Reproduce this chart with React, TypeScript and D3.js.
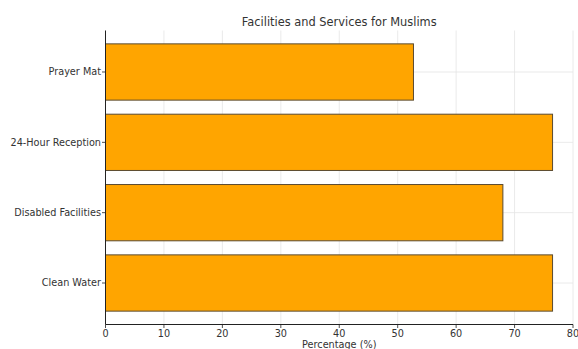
import React from "react";
import * as d3 from "d3";

const categories = ["Clean Water", "Disabled Facilities", "24-Hour Reception", "Prayer Mat"];
const values = [76.5, 68.0, 76.5, 52.7];
const xTicks = [0, 10, 20, 30, 40, 50, 60, 70, 80];
const title = "Facilities and Services for Muslims";
const xLabel = "Percentage (%)";

const W = 578, H = 349;
const left = 105.5, right = 573, top = 30.5, bottom = 324.5;

export default function App() {
  const x = d3.scaleLinear().domain([0, 80]).range([left, right]);
  const y = d3.scaleLinear().domain([-0.59, 3.59]).range([bottom, top]);
  const font = "'DejaVu Sans', sans-serif";
  return (
    <svg width={W} height={H} style={{ position: "absolute", left: 0, top: 0, background: "#fff" }}>
      {xTicks.map((t) => (
        <line key={"gx" + t} x1={x(t)} x2={x(t)} y1={top} y2={bottom} stroke="#e4e4e4" strokeWidth={0.8} />
      ))}
      {categories.map((c, i) => (
        <line key={"gy" + c} x1={left} x2={right} y1={y(i)} y2={y(i)} stroke="#e4e4e4" strokeWidth={0.8} />
      ))}
      {categories.map((c, i) => (
        <rect
          key={c}
          x={x(0)}
          y={y(i + 0.4)}
          width={x(values[i]) - x(0)}
          height={y(i - 0.4) - y(i + 0.4)}
          fill="#FFA500"
          stroke="#5a4a30"
          strokeWidth={1}
        />
      ))}
      <line x1={left} x2={left} y1={top} y2={bottom} stroke="#222" strokeWidth={1} />
      <line x1={left} x2={right} y1={bottom} y2={bottom} stroke="#222" strokeWidth={1} />
      {xTicks.map((t) => (
        <g key={"xt" + t}>
          <line x1={x(t)} x2={x(t)} y1={bottom} y2={bottom + 3.5} stroke="#222" strokeWidth={0.8} />
          <text x={x(t)} y={bottom + 12.5} textAnchor="middle" fontFamily={font} fontSize={9.7} fill="#333">
            {t}
          </text>
        </g>
      ))}
      {categories.map((c, i) => (
        <g key={"yt" + c}>
          <line x1={left - 3.5} x2={left} y1={y(i)} y2={y(i)} stroke="#222" strokeWidth={0.8} />
          <text x={left - 4.5} y={y(i)} dy="0.35em" textAnchor="end" fontFamily={font} fontSize={9.7} fill="#333">
            {c}
          </text>
        </g>
      ))}
      <text x={(left + right) / 2} y={H - 1} textAnchor="middle" fontFamily={font} fontSize={9.7} fill="#333">
        {xLabel}
      </text>
      <text x={(left + right) / 2} y={25.5} textAnchor="middle" fontFamily={font} fontSize={11.4} fill="#333">
        {title}
      </text>
    </svg>
  );
}
